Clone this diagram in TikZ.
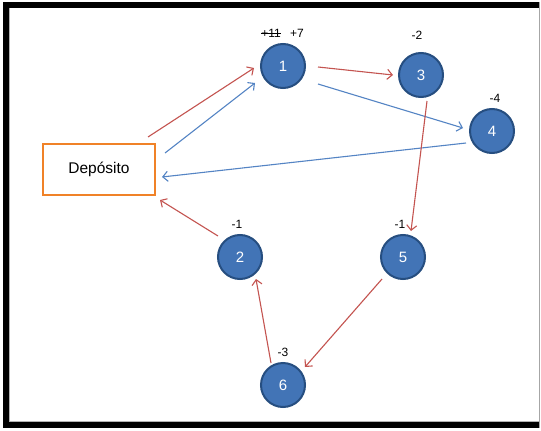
\documentclass[tikz,border=0pt]{standalone}
\usepackage{fontspec}
\setmainfont{Liberation Sans}
\usetikzlibrary{arrows.meta}
\definecolor{cred}{RGB}{196,84,80}
\definecolor{cblue}{RGB}{84,132,196}
\definecolor{cfill}{RGB}{66,116,182}
\definecolor{cedge}{RGB}{38,78,128}
\definecolor{corange}{RGB}{240,130,40}
\tikzset{
  x=1pt, y=-1pt,
  vtx/.style={circle, draw=cedge, line width=2pt, fill=cfill, minimum size=44pt, inner sep=0pt, text=white, font=\fontsize{15}{17}\selectfont},
  dep/.style={draw=corange, line width=2.5pt, minimum width=112pt, minimum height=51pt, inner sep=0pt, font=\fontsize{15.5}{18}\selectfont},
  lbl/.style={inner sep=0pt, font=\fontsize{12}{14}\selectfont},
  redarr/.style={draw=cred, line width=1.1pt, -{Straight Barb[length=5pt,width=10pt]}},
  bluearr/.style={draw=cblue, line width=1.1pt, -{Straight Barb[length=5pt,width=10pt]}},
}
\begin{document}
\begin{tikzpicture}
\useasboundingbox (0,0) rectangle (541,431);
\fill[white] (0,0) rectangle (541,431);
% frame
\draw[gray!60, line width=0.8pt] (9.5,7.5) rectangle (539.5,421.5);
\fill[black] (3,2) rectangle (9,428);
\fill[black] (3,2) rectangle (540,7.5);
\fill[black] (3,421.5) rectangle (540,428);
\draw[gray!70, line width=1pt] (539.5,2) -- (539.5,428);
% nodes
\node[dep] (D) at (99,169.5) {Depósito};
\node[vtx] (n1) at (283,66) {1};
\node[vtx] (n3) at (421,75) {3};
\node[vtx] (n4) at (492,131) {4};
\node[vtx] (n2) at (240,257) {2};
\node[vtx] (n5) at (403,257) {5};
\node[vtx] (n6) at (283,385) {6};
% labels
\node[lbl] (l1a) at (271,33) {+11};
\draw[black, line width=0.8pt] ([yshift=-0.5pt]l1a.west) -- ([yshift=-0.5pt]l1a.east);
\node[lbl] (l1b) at (297,33) {+7};
\node[lbl] (l3) at (417,35) {-2};
\node[lbl] (l4) at (495,98) {-4};
\node[lbl] (l2) at (237,224) {-1};
\node[lbl] (l5) at (400,224) {-1};
\node[lbl] (l6) at (283,352) {-3};
% connectors
\coordinate (a1) at (148,137); \coordinate (b1) at (254,68);
\coordinate (a2) at (165,153); \coordinate (b2) at (255,83);
\draw[redarr] (a1) -- (b1);
\draw[bluearr] (a2) -- (b2);
\coordinate (a3) at (318,67); \coordinate (b3) at (393,75);
\draw[redarr] (a3) -- (b3);
\coordinate (a4) at (318,84); \coordinate (b4) at (463,128);
\draw[bluearr] (a4) -- (b4);
\coordinate (a5) at (466,143); \coordinate (b5) at (162,177);
\draw[bluearr] (a5) -- (b5);
\coordinate (a6) at (427,101); \coordinate (b6) at (411,231);
\draw[redarr] (a6) -- (b6);
\coordinate (a7) at (382,279); \coordinate (b7) at (305,367);
\draw[redarr] (a7) -- (b7);
\coordinate (a8) at (271,363); \coordinate (b8) at (256,279);
\draw[redarr] (a8) -- (b8);
\coordinate (a9) at (218,236); \coordinate (b9) at (160,200);
\draw[redarr] (a9) -- (b9);
\end{tikzpicture}
\end{document}
